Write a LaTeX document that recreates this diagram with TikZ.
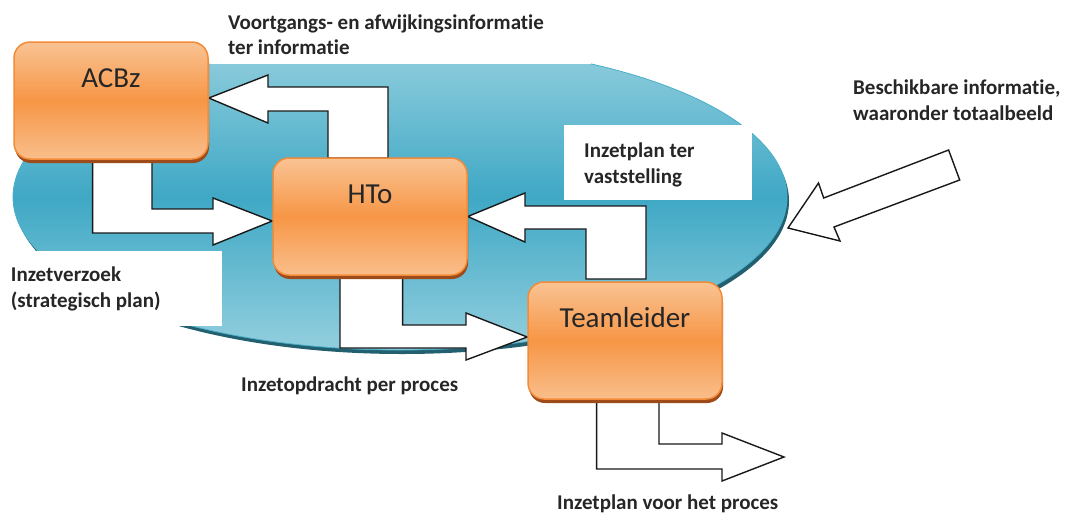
\documentclass[tikz,border=0pt]{standalone}
\usepackage{fontspec}
\setmainfont{Carlito}[Ligatures=NoCommon]
\usetikzlibrary{shapes.geometric,shadows,calc}
\pgfdeclarelayer{bg}
\pgfdeclarelayer{mid}
\pgfsetlayers{bg,mid,main}
\definecolor{txt}{HTML}{262626}
\definecolor{boxtop}{HTML}{F9C393}
\definecolor{boxmid}{HTML}{F79646}
\definecolor{boxbot}{HTML}{F9BE8B}
\definecolor{boxline}{HTML}{F38C38}
\definecolor{boxshadow}{HTML}{9E4B1C}
\definecolor{disklight}{HTML}{93CFDE}
\definecolor{diskmid}{HTML}{3FA8C5}
\definecolor{diskedge}{HTML}{4AAFC9}
\definecolor{diskshadow}{HTML}{23606F}
\begin{document}
\begin{tikzpicture}[x=1pt,y=-1pt,
  box/.style={rectangle, rounded corners=16pt, minimum width=194pt, inner sep=0pt,
    text height=45pt, text depth=72pt, draw=boxline, line width=1.5pt,
    top color=boxtop, bottom color=boxbot, middle color=boxmid,
    font=\fontsize{29}{33}\selectfont, text=txt,
    drop shadow={shadow xshift=1pt, shadow yshift=-4pt, fill=boxshadow, opacity=1}},
  blockarrow/.style={draw=black!90, fill=white, line width=1.4pt, line join=miter},
  lbl/.style={font=\bfseries\fontsize{21}{25.5}\selectfont, text=txt, align=left,
    inner sep=0pt, anchor=base west},
  mask/.style={fill=white}]
\useasboundingbox (0,0) rectangle (1068,515);

% background disk and white masks
\begin{pgfonlayer}{bg}
\node[ellipse, minimum width=774pt, minimum height=306pt, inner sep=0pt,
  draw=diskedge, line width=0.8pt,
  top color=disklight, bottom color=disklight, middle color=diskmid,
  drop shadow={shadow xshift=2pt, shadow yshift=-4pt, fill=diskshadow, opacity=1}]
  (disk) at (400,197) {};
\fill[mask] (0,0) rectangle (591,64);
\fill[mask] (564,125) rectangle (752,200);
\fill[mask] (0,251) rectangle (222,326);
\end{pgfonlayer}

% boxes
\node[box] (acbz) at (111,100.5) {ACBz};
\node[box] (hto) at (370,216.5) {HTo};
\node[box] (team) at (625,340.5) {Teamleider};

\coordinate (outtip) at (784,457);
\coordinate (intip) at (788,228);

% block arrows
\begin{pgfonlayer}{mid}
\draw[blockarrow] ($(acbz.east)+(0,-2.5)$) -- (268,75) -- (268,87) -- (388,87)
  -- (388,158) -- (328,158) -- (328,111) -- (268,111) -- (268,123) -- cycle;
\draw[blockarrow] (92.6,160) -- (152,160) -- (152,209) -- (213,209) -- (213,198)
  -- ($(hto.west)+(0,4.5)$) -- (213,245) -- (213,233) -- (92.6,233) -- cycle;
\draw[blockarrow] (hto.east) -- (525,193) -- (525,206) -- (646,206) -- (646,279)
  -- (586,279) -- (586,229) -- (525,229) -- (525,242) -- cycle;
\draw[blockarrow] (340,275) -- (402.6,275) -- (402.6,325) -- (466,325) -- (466,313)
  -- ($(team.west)+(0,-3.5)$) -- (466,360) -- (466,348) -- (340,348) -- cycle;
\draw[blockarrow] (596.6,398) -- (659,398) -- (659,444) -- (722,444) -- (722,433)
  -- (outtip) -- (722,481) -- (722,469) -- (596.6,469) -- cycle;
\draw[blockarrow] (intip) -- (818.5,183) -- (823.7,198) -- (948.6,150) -- (959.7,180)
  -- (834,227) -- (840,241) -- cycle;
\end{pgfonlayer}

% labels (anchored at the baseline of the last line)
\node[lbl] (l1) at (228,54.5) {Voortgangs- en afwijkingsinformatie\\ter informatie};
\node[lbl] (l2) at (853,120) {Beschikbare informatie,\\waaronder totaalbeeld};
\node[lbl] (l3) at (584,183) {Inzetplan ter\\vaststelling};
\node[lbl] (l4) at (10.7,307) {Inzetverzoek\\(strategisch plan)};
\node[lbl] (l5) at (241,391) {Inzetopdracht per proces};
\node[lbl] (l6) at (557,509) {Inzetplan voor het proces};
\end{tikzpicture}
\end{document}
